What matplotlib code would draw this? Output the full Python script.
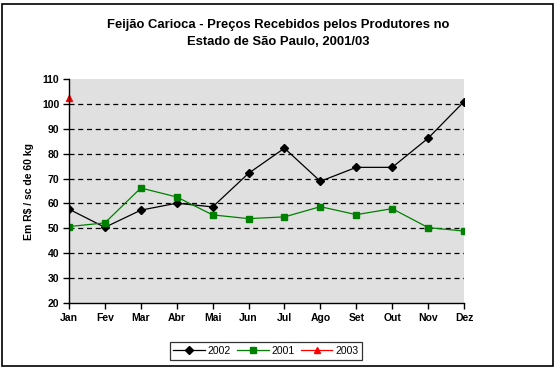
import matplotlib.pyplot as plt
from matplotlib.patches import Rectangle

# data
months = ['Jan', 'Fev', 'Mar', 'Abr', 'Mai', 'Jun', 'Jul', 'Ago', 'Set', 'Out', 'Nov', 'Dez']
prices_2002 = [57.7, 50.4, 57.3, 60.1, 58.6, 72.1, 82.2, 68.9, 74.5, 74.5, 86.2, 100.9]
prices_2001 = [50.7, 52.2, 66.2, 62.6, 55.4, 53.9, 54.6, 58.7, 55.5, 57.9, 50.3, 48.9]
prices_2003 = [102.5]
y_ticks = list(range(20, 111, 10))

plt.rcParams['font.family'] = ['Liberation Sans', 'DejaVu Sans']

fig = plt.figure(figsize=(5.59, 3.71), dpi=100)
ax = fig.add_axes([69 / 559, 1 - 303 / 371, (464 - 69) / 559, (303 - 79) / 371])
ax.set_facecolor('#e0e0e0')

x = list(range(len(months)))
ax.plot(x, prices_2002, color='black', lw=0.9, marker='D', ms=4.5, label='2002')
ax.plot(x, prices_2001, color='#008000', lw=0.9, marker='s', ms=5, label='2001')
ax.plot(x[:len(prices_2003)], prices_2003, color='red', lw=0.9, marker='^', ms=5,
        label='2003', clip_on=False)

ax.set_xlim(0, 11)
ax.set_ylim(20, 110)
ax.set_xticks(x)
ax.set_xticklabels(months, fontsize=7.5, fontweight='bold')
ax.set_yticks(y_ticks)
ax.set_yticklabels([str(v) for v in y_ticks], fontsize=7.5, fontweight='bold')
ax.tick_params(direction='out', length=4, width=1, pad=3)

for v in y_ticks[1:-1]:
    ax.axhline(v, color='black', lw=0.9, ls=(0, (4, 3)), zorder=1)

for s in ['top', 'right']:
    ax.spines[s].set_visible(False)
for s in ['left', 'bottom']:
    ax.spines[s].set_linewidth(1)

ax.set_ylabel('Em R$ / sc de 60 kg', fontsize=7.5, fontweight='bold', labelpad=6)

fig.text(0.498, 0.95, 'Feijão Carioca - Preços Recebidos pelos Produtores no\nEstado de São Paulo, 2001/03',
         ha='center', va='top', fontsize=9.4, fontweight='bold', linespacing=1.6)

leg = fig.legend(loc='center', bbox_to_anchor=(266 / 559, 1 - 351 / 371), ncol=3,
                 fontsize=7.5, frameon=True, fancybox=False, edgecolor='black',
                 handlelength=3, handletextpad=0.3, columnspacing=0.6,
                 borderpad=0.35, borderaxespad=0, markerscale=0.8)
leg.get_frame().set_linewidth(0.9)

fig.patches.append(Rectangle((2 / 559, 1 - 366 / 371), 551 / 559, 362 / 371,
                             transform=fig.transFigure, fill=False,
                             edgecolor='black', lw=1.2))

fig.savefig('out.png', dpi=100)
